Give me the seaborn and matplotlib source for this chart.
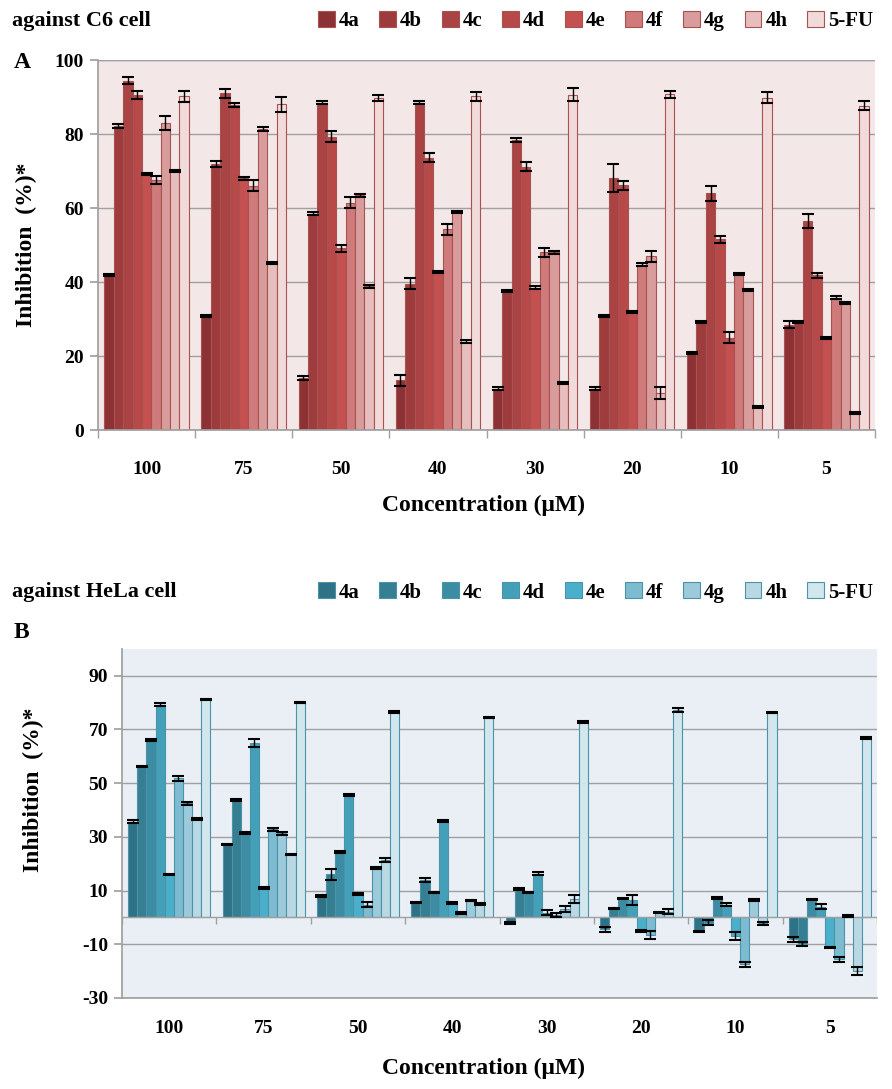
import matplotlib
matplotlib.use("Agg")
import matplotlib.pyplot as plt
from matplotlib.patches import Patch
import pandas as pd
import seaborn as sns

sns.set_theme(style="white")
plt.rcParams["font.family"] = ["Liberation Serif", "DejaVu Serif"]
plt.rcParams["font.weight"] = "bold"
plt.rcParams["text.color"] = "black"
plt.rcParams["axes.unicode_minus"] = False

concentrations = ["100", "75", "50", "40", "30", "20", "10", "5"]
compounds = ["4a", "4b", "4c", "4d", "4e", "4f", "4g", "4h", "5-FU"]

# C6 cell: rows = compound, cols = concentration
c6_inhibition = [
    [41.8, 30.9, 14.0, 13.5, 11.2, 11.2, 20.9, 28.5],
    [82.2, 71.8, 58.5, 39.5, 37.6, 30.8, 29.3, 29.3],
    [94.4, 91.0, 88.5, 88.5, 78.4, 68.2, 64.0, 56.5],
    [90.5, 87.8, 79.3, 73.6, 71.2, 66.2, 51.5, 41.8],
    [69.1, 68.0, 49.1, 42.8, 38.5, 32.0, 24.9, 24.8],
    [67.6, 66.0, 61.4, 54.2, 48.0, 44.7, 42.2, 35.8],
    [83.0, 81.3, 63.4, 59.0, 48.0, 46.9, 37.9, 34.3],
    [70.1, 45.2, 38.8, 23.9, 12.8, 10.0, 6.3, 4.6],
    [90.2, 88.0, 89.8, 90.2, 90.6, 90.7, 89.8, 87.6],
]
c6_err = [
    [0.3, 0.3, 0.5, 1.5, 0.3, 0.3, 0.3, 1.0],
    [0.5, 0.8, 0.3, 1.5, 0.3, 0.3, 0.3, 0.3],
    [1.0, 1.2, 0.3, 0.3, 0.5, 3.8, 2.0, 2.0],
    [1.0, 0.6, 1.5, 1.2, 1.3, 1.2, 1.0, 0.6],
    [0.3, 0.3, 1.0, 0.3, 0.3, 0.3, 1.5, 0.3],
    [1.0, 1.5, 1.5, 1.5, 1.2, 0.5, 0.3, 0.3],
    [2.0, 0.6, 0.3, 0.3, 0.3, 1.5, 0.3, 0.3],
    [0.3, 0.3, 0.3, 0.3, 0.3, 1.5, 0.3, 0.3],
    [1.5, 2.0, 0.8, 1.2, 1.8, 1.0, 1.5, 1.2],
]

# HeLa cell
hela_inhibition = [
    [35.6, 27.1, 8.0, 5.5, -2.1, -4.4, -5.2, -8.2],
    [56.2, 43.8, 16.0, 14.0, 10.5, 3.3, -2.0, -10.0],
    [66.1, 31.5, 24.3, 9.3, 9.3, 7.1, 7.2, 6.7],
    [79.3, 65.0, 45.6, 36.0, 16.3, 6.5, 4.8, 4.0],
    [16.0, 11.0, 8.8, 5.3, 1.8, -5.0, -6.9, -11.2],
    [51.8, 32.8, 4.8, 1.6, 1.0, -6.5, -17.5, -15.6],
    [42.5, 31.3, 18.4, 6.3, 3.1, 1.9, 6.5, 0.5],
    [36.7, 23.5, 21.3, 5.0, 6.9, 2.1, -2.2, -20.0],
    [81.2, 80.0, 76.6, 74.4, 72.8, 77.3, 76.3, 66.9],
]
hela_err = [
    [0.5, 0.3, 0.3, 0.3, 0.3, 1.0, 0.3, 1.0],
    [0.3, 0.3, 2.0, 0.8, 0.3, 0.3, 1.0, 0.8],
    [0.3, 0.5, 0.3, 0.3, 0.3, 0.3, 0.3, 0.3],
    [0.5, 1.5, 0.3, 0.3, 0.5, 2.0, 0.5, 1.0],
    [0.3, 0.3, 0.3, 0.3, 1.0, 0.3, 1.5, 0.3],
    [1.0, 0.5, 1.0, 0.3, 0.8, 1.5, 1.0, 1.0],
    [0.5, 0.5, 0.3, 0.3, 1.0, 0.3, 0.3, 0.3],
    [0.3, 0.3, 0.8, 0.3, 1.5, 1.0, 0.5, 1.5],
    [0.3, 0.3, 0.3, 0.3, 0.3, 0.8, 0.3, 0.3],
]

red_colors = ["#8C3234", "#9E3C3D", "#AA4343", "#B74949", "#C45050",
              "#CF7B7B", "#D99C9C", "#E6BEBE", "#F1DADA"]
blue_colors = ["#2F7285", "#367F93", "#3C8DA3", "#44A0B9", "#4AAFCB",
               "#7DBBD0", "#9DCADB", "#B9D8E4", "#D2E6EE"]


def to_long(values):
    rows = []
    for comp, vals in zip(compounds, values):
        for conc, v in zip(concentrations, vals):
            rows.append({"conc": conc, "compound": comp, "value": v})
    return pd.DataFrame(rows)


def draw_panel(ax, values, errs, colors, edge, bg):
    df = to_long(values)
    sns.barplot(data=df, x="conc", y="value", hue="compound", order=concentrations,
                hue_order=compounds, palette=colors, width=0.87, errorbar=None,
                legend=False, ax=ax, edgecolor=edge, linewidth=0.8, saturation=1)
    for cont, vals, err in zip(ax.containers, values, errs):
        xs = [p.get_x() + p.get_width() / 2 for p in cont.patches]
        ax.errorbar(xs, vals, yerr=err, fmt="none", ecolor="black", elinewidth=1.0,
                    capsize=4, capthick=1.5, zorder=5)
    ax.set_facecolor(bg)
    ax.set_xlim(-0.5, len(concentrations) - 0.5)
    ax.set_xlabel("")
    ax.set_ylabel("")
    for s in ["top", "right"]:
        ax.spines[s].set_visible(False)
    ax.spines["left"].set_color("#A0A0A0")
    ax.spines["bottom"].set_color("#A0A0A0")
    ax.tick_params(axis="y", length=6, color="#A0A0A0", labelcolor="black",
                   labelsize=14, pad=4, left=True)
    ax.tick_params(axis="x", length=0, labelsize=14, labelcolor="black")
    for lab in ax.get_xticklabels() + ax.get_yticklabels():
        lab.set_fontweight("bold")


def add_legend(fig, colors, edge, y):
    handles = [Patch(facecolor=c, edgecolor=edge, linewidth=0.8) for c in colors]
    fig.legend(handles, compounds, loc="center right", bbox_to_anchor=(1.0, y), ncol=9,
               frameon=False, handlelength=0.8, handleheight=0.8, handletextpad=0.2,
               columnspacing=0.95, prop={"size": 15, "weight": "bold"})


fig = plt.figure(figsize=(8.92, 10.89), dpi=100)

# Panel A: C6
ax1 = fig.add_axes([0.1099, 0.6051, 0.8711, 0.3398])
draw_panel(ax1, c6_inhibition, c6_err, red_colors, "#A95252", "#F4E7E7")
ax1.set_ylim(0, 100)
ax1.set_yticks([0, 20, 40, 60, 80, 100])
ax1.yaxis.grid(True, color="#A0A0A0", linewidth=1)
ax1.set_axisbelow(True)
ax1.set_xticks([i - 0.5 for i in range(len(concentrations) + 1)], minor=True)
ax1.tick_params(axis="x", which="minor", length=6, color="#A0A0A0", bottom=True, direction="out")
ax1.tick_params(axis="x", which="major", pad=22)
ax1.axhline(100, color="#A0A0A0", linewidth=1)

fig.text(0.0135, 0.981, "against C6 cell", fontsize=16, fontweight="bold", va="center")
fig.text(0.015, 0.943, "A", fontsize=17, fontweight="bold", va="center")
add_legend(fig, red_colors, "#A95252", 0.981)
fig.text(0.542, 0.536, "Concentration (\u03bcM)", fontsize=17, fontweight="bold", ha="center", va="center")
fig.text(0.030, 0.775, "Inhibition  (%)*", fontsize=17, fontweight="bold", rotation=90,
         ha="center", va="center")

# Panel B: HeLa
ax2 = fig.add_axes([0.1368, 0.0836, 0.8464, 0.3205])
draw_panel(ax2, hela_inhibition, hela_err, blue_colors, "#4A93A8", "#E9EFF4")
ax2.set_ylim(-30, 100)
ax2.set_yticks([-30, -10, 10, 30, 50, 70, 90])
ax2.yaxis.grid(True, color="#A0A0A0", linewidth=1)
ax2.set_axisbelow(True)
ax2.axhline(0, color="#A0A0A0", linewidth=1, zorder=1)
bounds = [i - 0.5 for i in range(len(concentrations) + 1)]
ax2.vlines(bounds, -2.3, 0, color="#A0A0A0", linewidth=1)
ax2.tick_params(axis="x", which="major", pad=16)

fig.text(0.0135, 0.456, "against HeLa cell", fontsize=16, fontweight="bold", va="center")
fig.text(0.015, 0.419, "B", fontsize=17, fontweight="bold", va="center")
add_legend(fig, blue_colors, "#4A93A8", 0.456)
fig.text(0.542, 0.019, "Concentration (\u03bcM)", fontsize=17, fontweight="bold", ha="center", va="center")
fig.text(0.038, 0.275, "Inhibition  (%)*", fontsize=17, fontweight="bold", rotation=90,
         ha="center", va="center")

fig.savefig("out.png", dpi=100)
